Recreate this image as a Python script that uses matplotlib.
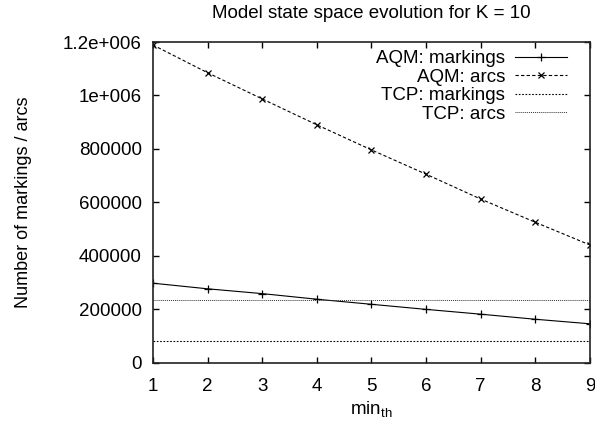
import matplotlib.pyplot as plt
import numpy as np

# Data
min_th = [1, 2, 3, 4, 5, 6, 7, 8, 9]
aqm_markings = [297000, 276000, 258000, 237000, 218000, 199000, 181000, 162000, 145000]
aqm_arcs = [1189000, 1085000, 987000, 890000, 796000, 705000, 612000, 525000, 440000]
tcp_markings = 79000
tcp_arcs = 233000

yticks = [0, 200000, 400000, 600000, 800000, 1000000, 1200000]
ytick_labels = ['0', '200000', '400000', '600000', '800000', '1e+006', '1.2e+006']

plt.rcParams['font.family'] = ['Liberation Sans', 'DejaVu Sans']
plt.rcParams['mathtext.fontset'] = 'custom'
plt.rcParams['mathtext.rm'] = 'Liberation Sans'

fs = 13.5

fig = plt.figure(figsize=(5.95, 4.26), dpi=100)
ax = fig.add_axes([0.257, 0.149, 0.7346, 0.7524])

ax.plot(min_th, aqm_markings, color='black', lw=0.8, marker='+',
        markersize=6, markeredgewidth=0.9, label='AQM: markings')
ax.plot(min_th, aqm_arcs, color='black', lw=0.8, ls=(0, (3, 2)), marker='x',
        markersize=5, markeredgewidth=0.9, label='AQM: arcs')
ax.axhline(tcp_markings, color='black', lw=0.8, ls=(0, (1.5, 1.5)),
           label='TCP: markings')
ax.axhline(tcp_arcs, color='#333333', lw=0.7, ls=(0, (1, 1)),
           label='TCP: arcs')

ax.set_xlim(1, 9)
ax.set_ylim(0, 1200000)
ax.set_xticks(min_th)
ax.set_yticks(yticks)
ax.set_yticklabels(ytick_labels)

ax.tick_params(direction='in', length=4, width=1, top=True, right=True,
               labelsize=fs)
ax.tick_params(axis='x', pad=11.5)
ax.tick_params(axis='y', pad=8)
for s in ax.spines.values():
    s.set_linewidth(1.2)
    s.set_color('#222222')

ax.set_title('Model state space evolution for K = 10', fontsize=fs, pad=17)
ax.set_xlabel(r'min$_{\mathregular{th}}$', fontsize=fs, labelpad=3)
ax.set_ylabel('Number of markings / arcs', fontsize=13)
ax.yaxis.set_label_coords(-0.277, 0.5)

leg = ax.legend(loc='upper right', bbox_to_anchor=(0.947, 0.975),
                frameon=False, markerfirst=False, fontsize=fs,
                handlelength=2.77, handletextpad=0.53, labelspacing=0.08,
                borderpad=0, borderaxespad=0)
# right-align legend text like gnuplot
vp = leg._legend_box._children[-1]._children[0]
vp.align = 'right'

plt.savefig('out.png', dpi=100)
plt.close()
